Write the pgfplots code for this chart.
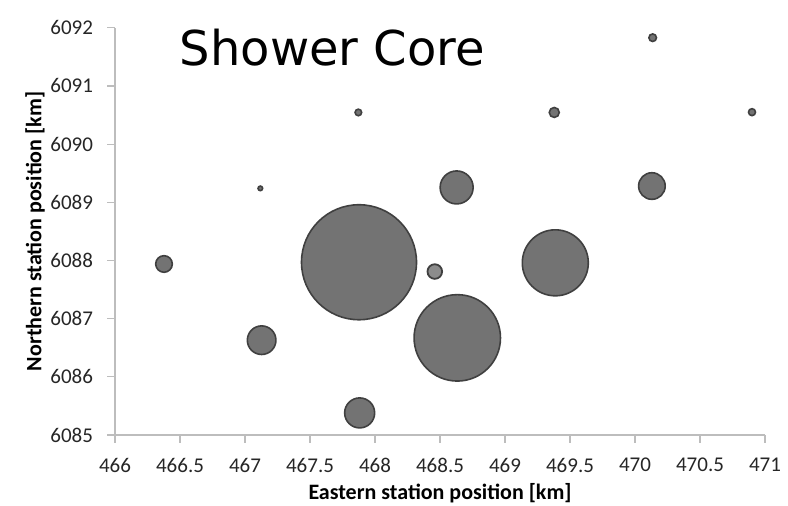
\documentclass[border=0pt]{standalone}
\usepackage{pgfplots}
\pgfplotsset{compat=1.18}
\usepackage{pgfplotstable}
\usepackage{fontspec}
\setmainfont{Carlito}
\newfontfamily\titlefont{DejaVu Sans}

\definecolor{bubble}{HTML}{737373}
\definecolor{bubbleedge}{HTML}{404040}
\definecolor{hatchfill}{HTML}{8C8C8C}
\definecolor{axisgray}{HTML}{BDBDBD}

% station positions [km], r = bubble radius in pt
\pgfplotstableread{
x        y        r
466.377  6087.94  4.15
467.118  6089.24  1.15
467.872  6090.545 1.65
469.379  6090.545 2.5
470.136  6091.83  1.9
470.900  6090.55  1.75
468.628  6089.256 8.25
470.130  6089.28  6.65
467.877  6087.97  28.75
469.387  6087.96  16.5
467.128  6086.63  7.15
468.633  6086.67  21.6
467.882  6085.38  7.5
}\cores

\pgfplotstableread{
x       y        r
468.46  6087.81  3.65
}\hatched

\begin{document}
\begin{tikzpicture}
\path[use as bounding box] (-57.5pt,-35pt) rectangle (336.5pt,217.5pt);
\begin{axis}[
    at={(0pt,0pt)}, anchor=south west,
    scale only axis, width=325pt, height=203.6pt,
    xmin=466, xmax=471, ymin=6085, ymax=6092,
    axis x line*=bottom, axis y line*=left,
    axis line style={-, axisgray, line width=0.6pt},
    xtick={466,466.5,467,467.5,468,468.5,469,469.5,470,470.5,471},
    ytick={6085,6086,6087,6088,6089,6090,6091,6092},
    tick align=outside, major tick length=4pt,
    tick style={axisgray, line width=0.6pt},
    /pgf/number format/.cd, assume math mode=true, 1000 sep={},
    /pgfplots/.cd,
    tick label style={font=\fontsize{10.5}{12}\selectfont, text=black!85},
    xticklabel style={yshift=-4pt},
    yticklabel style={xshift=-3.5pt},
    every axis x label/.style={at={(axis description cs:0.5,0)}, yshift=-29pt, anchor=center},
    every axis y label/.style={at={(axis description cs:0,0.5)}, xshift=-40pt, rotate=90, anchor=center},
    label style={font=\bfseries\fontsize{11}{13}\selectfont},
    xlabel={Eastern station position [km]},
    ylabel={Northern station position [km]},
    clip=false,
]
\addplot[scatter, only marks, mark=*,
    scatter/use mapped color={draw=bubbleedge, fill=bubble},
    visualization depends on={\thisrow{r} \as \rad},
    scatter/@pre marker code/.append style={/tikz/mark size=\rad},
    mark options={line width=0.8pt}]
    table[x=x, y=y] {\cores};
\addplot[scatter, only marks, mark=*,
    scatter/use mapped color={draw=bubbleedge, fill=hatchfill},
    visualization depends on={\thisrow{r} \as \rad},
    scatter/@pre marker code/.append style={/tikz/mark size=\rad},
    mark options={line width=0.9pt}]
    table[x=x, y=y] {\hatched};
\node[font=\titlefont\fontsize{24}{28}\selectfont, anchor=base west, inner sep=0pt]
    at (rel axis cs:0.0992,0.9067) {Shower Core};
\end{axis}
\end{tikzpicture}
\end{document}
